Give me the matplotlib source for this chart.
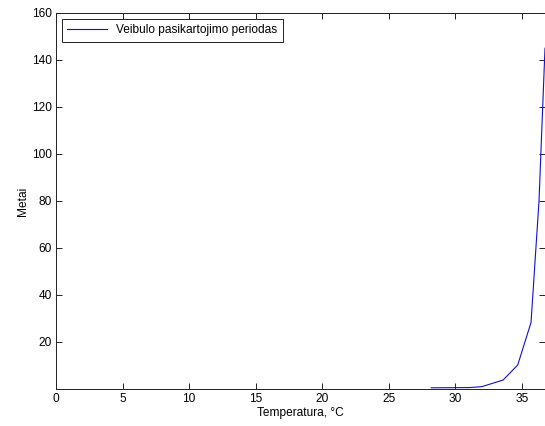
import matplotlib
matplotlib.use("Agg")
import matplotlib.pyplot as plt

plt.rcParams['font.family'] = ['Liberation Sans', 'DejaVu Sans']

temperature = [28.2, 31.1, 32.0, 33.6, 34.7, 35.7, 36.3, 36.75]
years = [0.5, 0.6, 1.0, 3.8, 10.2, 28.3, 80.0, 145.0]
xticks = [0, 5, 10, 15, 20, 25, 30, 35]
yticks = [20, 40, 60, 80, 100, 120, 140, 160]

fig = plt.figure(figsize=(5.45, 4.26), dpi=100)
ax = fig.add_axes([0.1028, 0.0869, 0.8972, 0.8826])
ax.plot(temperature, years, color='#1010d0', linewidth=0.8,
        label='Veibulo pasikartojimo periodas')
ax.set_xlim(0, 36.75)
ax.set_ylim(0, 160)
ax.set_xticks(xticks)
ax.set_yticks(yticks)
ax.tick_params(direction='in', top=True, right=True, labelsize=8.6, length=4,
               width=0.6, pad=3)
for s in ax.spines.values():
    s.set_linewidth(0.7)
    s.set_color('#222222')
ax.set_xlabel('Temperatura, °C', fontsize=8.6, labelpad=1)
ax.set_ylabel('Metai', fontsize=8.6, labelpad=2)
leg = ax.legend(loc='upper left', fontsize=8.6, fancybox=False, framealpha=1,
                edgecolor='#222222', borderaxespad=0.5, handlelength=3.3,
                borderpad=0.45)
leg.get_frame().set_linewidth(0.7)
fig.savefig('out.png', dpi=100)
